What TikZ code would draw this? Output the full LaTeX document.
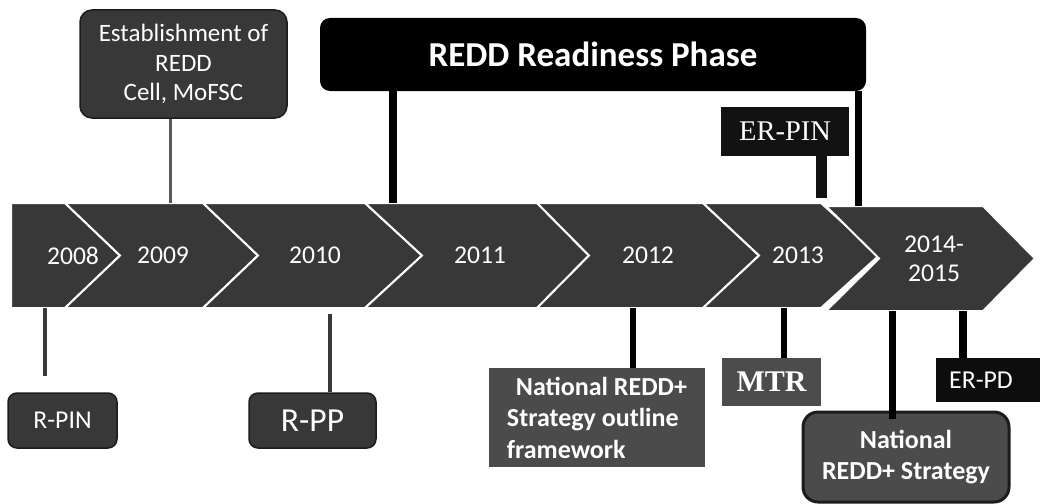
\documentclass[tikz,border=0pt]{standalone}
\usepackage{fontspec}
\setmainfont{Carlito}
\newfontfamily\tnr{Liberation Serif}
\usepackage{xcolor}
\usepackage{tikz}
\definecolor{band}{HTML}{383838}
\definecolor{boxedge}{HTML}{1C1C1C}
\definecolor{midgrey}{HTML}{4B4B4B}

\begin{document}
\begin{tikzpicture}[x=1pt, y=-1pt,
        yr/.style={text=white, font=\fontsize{25.6}{29}\selectfont, align=center},
        dark/.style={rectangle, draw=boxedge, line width=1.5pt, fill=band, text=white, rounded corners=9pt},
        flat/.style={rectangle, text=white},
        stem/.style={line width=6pt, black}]
    \useasboundingbox (0,0) rectangle (1046,503);

    \fill[band, draw=white, line width=2pt] (11,203) -- (65,203) -- (120,255.5) -- (65,308) -- (11,308) -- cycle;
    \foreach \l/\n/\r/\t in {65/120/203/258, 203/258/365/422, 365/422/537/589, 537/589/703/759, 703/759/821/879}
        \fill[band, draw=white, line width=2pt] (\l,203) -- (\r,203) -- (\t,255.5) -- (\r,308) -- (\l,308) -- (\n,255.5) -- cycle;
    \fill[band, draw=white, line width=2pt] (826,206) -- (983,206) -- (1035,258.5) -- (983,311) -- (826,311) -- (879,258.5) -- cycle;

    \node (y08) at (73,255.5) [yr] {2008};
    \node (y09) at (163,255.5) [yr] {2009};
    \node (y10) at (315,255.5) [yr] {2010};
    \node (y11) at (480,255.5) [yr] {2011};
    \node (y12) at (648,255.5) [yr] {2012};
    \node (y13) at (798,255.5) [yr] {2013};
    \node (y14) at (934,259) [yr] {2014-\\2015};

    \coordinate (t09) at (170,203);
    \coordinate (t11) at (393,203);
    \coordinate (t13) at (821,198);
    \coordinate (t14) at (858,206);
    \coordinate (b08) at (45,308);
    \coordinate (e08) at (45,376);
    \coordinate (b10) at (330,314);
    \coordinate (b12) at (633,308);
    \coordinate (b13) at (784,308);
    \coordinate (b14) at (892,311);
    \coordinate (b15) at (963,311);

    \node (est) at (183.5,64) [dark, minimum width=207pt, minimum height=108pt, rounded corners=12pt,
        font=\fontsize{25}{29.5}\selectfont, align=center] {Establishment of\\REDD\\Cell, MoFSC};

    \node (phase) at (593,54.5) [rectangle, fill=black, text=white, rounded corners=10pt,
        minimum width=546pt, minimum height=73pt, font=\bfseries\fontsize{35}{40}\selectfont] {REDD Readiness Phase};

    \node (erpin) at (785,131.5) [flat, fill=black!93, minimum width=128pt, minimum height=49pt,
        font=\tnr\fontsize{28.5}{32}\selectfont] {ER-PIN};

    \node (rpin) at (62.5,420.5) [dark, minimum width=109pt, minimum height=55pt,
        font=\fontsize{25.7}{29}\selectfont] {R-PIN};
    \node (rpp) at (312.5,420.5) [dark, minimum width=127pt, minimum height=55pt,
        font=\fontsize{33.6}{38}\selectfont] {R-PP};

    \node (outl) at (597,417.5) [flat, fill=midgrey, minimum width=216pt, minimum height=99pt,
        align=left, font=\bfseries\fontsize{26}{31.5}\selectfont]
        {\hspace*{9pt}National REDD+\\Strategy outline\\framework};

    \node (mtr) at (771.5,382) [flat, fill=band!90, minimum width=99pt, minimum height=48pt,
        font=\tnr\bfseries\fontsize{30}{34}\selectfont] {MTR};

    \node (erpd) at (988,380) [flat, fill=black!95, minimum width=104pt, minimum height=44pt,
        font=\fontsize{25.8}{29}\selectfont] {\hspace*{-14pt}ER-PD};

    \node (strat) at (906,457) [rectangle, draw=boxedge, line width=3pt, fill=midgrey, text=white,
        rounded corners=15pt, minimum width=206pt, minimum height=90pt, align=center,
        font=\bfseries\fontsize{26}{31}\selectfont] {National\\REDD+ Strategy};

    \draw[line width=3pt, black!65] (t09 |- est.south) -- (t09);
    \draw[line width=8pt, black] (t11 |- phase.south) -- (t11);
    \draw[line width=7pt, black] (t14 |- phase.south) -- (t14);
    \draw[line width=11pt, black!93] (t13 |- erpin.south) -- (t13);
    \draw[line width=4pt, band] (b08) -- (e08);
    \draw[line width=4pt, band] (b10) -- (b10 |- rpp.north);
    \draw[stem] (b12) -- (b12 |- outl.north);
    \draw[stem] (b13) -- (b13 |- mtr.north);
    \draw[stem, line width=7pt] (b14) -- ([yshift=-8pt]b14 |- strat.north);
    \draw[stem, line width=8pt] (b15) -- (b15 |- erpd.north);
\end{tikzpicture}
\end{document}
